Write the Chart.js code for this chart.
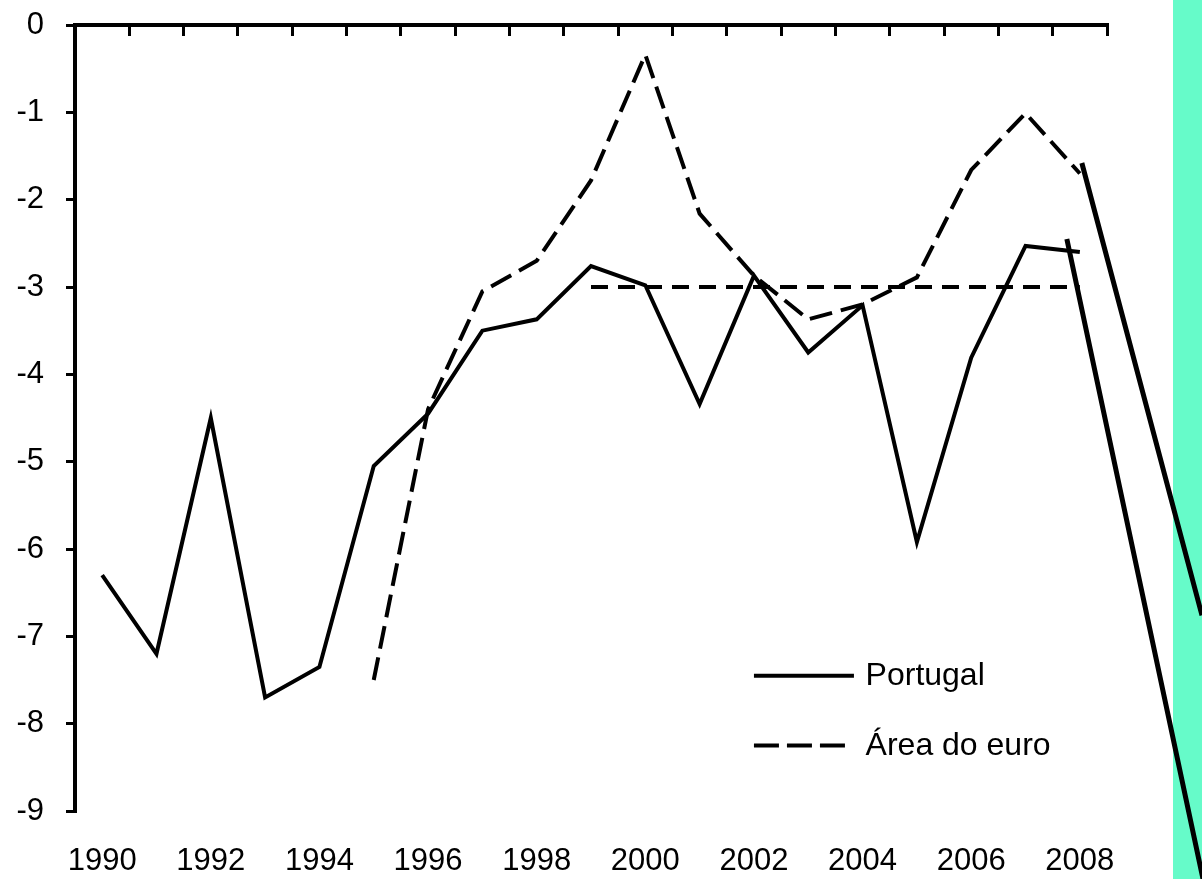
<!DOCTYPE html>
<html>
<head>
<meta charset="utf-8">
<script src="https://cdn.jsdelivr.net/npm/chart.js@4"></script>
<style>
  html, body { margin: 0; padding: 0; background: #fff; }
  #wrap { width: 1202px; height: 879px; position: relative; }
</style>
</head>
<body>
<div id="wrap"><canvas id="chart"></canvas></div>
<script>
// Chart data.
const years = ['1990', '1991', '1992', '1993', '1994', '1995', '1996', '1997', '1998', '1999',
               '2000', '2001', '2002', '2003', '2004', '2005', '2006', '2007', '2008'];
const portugal = [-6.3, -7.2, -4.5, -7.7, -7.35, -5.05, -4.45, -3.5, -3.37, -2.76,
                  -2.98, -4.34, -2.87, -3.75, -3.21, -5.92, -3.81, -2.53, -2.6];
const euroArea = [null, null, null, null, null, -7.5, -4.4, -3.05, -2.7, -1.78,
                  -0.34, -2.16, -2.87, -3.37, -3.2, -2.89, -1.66, -1.01, -1.7];
const deficitLimit = [null, null, null, null, null, null, null, null, null, -3,
                      -3, -3, -3, -3, -3, -3, -3, -3, -3];
const yMin = -9;
const yMax = 0;

Chart.defaults.font.family = "'Liberation Sans', Arial, sans-serif";
Chart.defaults.color = '#000';

// white page with the teal strip on the right
const background = {
    id: 'background',
    beforeDraw(chart) {
        const ctx = chart.ctx;
        ctx.save();
        ctx.fillStyle = '#fff';
        ctx.fillRect(0, 0, chart.width, chart.height);
        ctx.fillStyle = '#66fbc9';
        ctx.fillRect(chart.width - 29, 0, 29, chart.height);
        ctx.restore();
    }
};

// legend drawn inside the plot, lower right
const innerLegend = {
    id: 'innerLegend',
    afterDraw(chart) {
        const ctx = chart.ctx;
        const x = chart.scales.x;
        const y = chart.scales.y;
        const x0 = x.getPixelForValue(12);
        const tx = x.getPixelForValue(14) + 3;
        const rows = [-7.45, -8.25];
        const items = chart.data.datasets.filter(d => d.inLegend);
        ctx.save();
        items.forEach((d, i) => {
            const py = y.getPixelForValue(rows[i]);
            ctx.strokeStyle = d.borderColor;
            ctx.lineWidth = 4;
            ctx.setLineDash(d.borderDash.length ? [25, 8] : []);
            ctx.beginPath();
            ctx.moveTo(x0, py);
            ctx.lineTo(x0 + (d.borderDash.length ? 91 : 100), py);
            ctx.stroke();
            ctx.setLineDash([]);
            ctx.fillStyle = '#000';
            ctx.font = "32px 'Liberation Sans', Arial, sans-serif";
            ctx.textBaseline = 'middle';
            ctx.fillText(d.label, tx, py + 1);
        });
        ctx.restore();
    }
};

// the two call-out strokes leaving the 2008 values
const callouts = {
    id: 'callouts',
    afterDraw(chart) {
        const ctx = chart.ctx;
        const y = chart.scales.y;
        const x2008 = chart.scales.x.getPixelForValue(18);
        ctx.save();
        ctx.strokeStyle = '#000';
        ctx.lineWidth = 5;
        ctx.beginPath();
        ctx.moveTo(x2008 + 2, y.getPixelForValue(-1.58));
        ctx.lineTo(chart.width, y.getPixelForValue(-6.76));
        ctx.moveTo(x2008 - 13, y.getPixelForValue(-2.45));
        ctx.lineTo(chart.width + 1, chart.height);
        ctx.stroke();
        ctx.restore();
    }
};

new Chart(document.getElementById('chart'), {
    type: 'line',
    data: {
        labels: years,
        datasets: [{
            label: 'Portugal',
            data: portugal,
            borderColor: '#000',
            borderWidth: 4,
            borderDash: [],
            inLegend: true
        }, {
            label: 'Área do euro',
            data: euroArea,
            borderColor: '#000',
            borderWidth: 4,
            borderDash: [23, 9],
            inLegend: true
        }, {
            label: 'Limite',
            data: deficitLimit,
            borderColor: '#000',
            borderWidth: 4,
            borderDash: [17, 10],
            inLegend: false
        }]
    },
    options: {
        responsive: true,
        maintainAspectRatio: false,
        animation: false,
        elements: {
            point: { radius: 0 },
            line: { tension: 0, fill: false }
        },
        layout: {
            padding: { top: 25, right: 95, bottom: 0, left: 0 }
        },
        plugins: {
            legend: { display: false },
            tooltip: { enabled: false }
        },
        scales: {
            x: {
                type: 'category',
                position: 'bottom',
                offset: true,
                grid: { display: false, drawTicks: false },
                border: { display: false },
                ticks: {
                    autoSkip: false,
                    maxRotation: 0,
                    padding: 32,
                    font: { size: 31 },
                    callback(v, i) {
                        return i % 2 === 0 ? this.getLabelForValue(v) : '';
                    }
                },
                afterFit(scale) {
                    scale.height = 68;
                }
            },
            xTop: {
                type: 'category',
                position: { y: 0 },
                offset: true,
                grid: {
                    offset: true,
                    drawOnChartArea: false,
                    drawTicks: true,
                    tickLength: 9,
                    lineWidth: 3,
                    color: '#000'
                },
                border: { display: true, color: '#000', width: 4 },
                ticks: { display: false }
            },
            y: {
                min: yMin,
                max: yMax,
                position: 'left',
                ticks: {
                    stepSize: 1,
                    padding: 22,
                    font: { size: 31 }
                },
                grid: {
                    drawOnChartArea: false,
                    tickLength: 9,
                    lineWidth: 3,
                    color: '#000'
                },
                border: { color: '#000', width: 4 },
                afterFit(scale) {
                    scale.width = 75;
                    scale.paddingTop = 0;
                    scale.paddingBottom = 0;
                }
            }
        }
    },
    plugins: [background, innerLegend, callouts]
});
</script>
</body>
</html>
